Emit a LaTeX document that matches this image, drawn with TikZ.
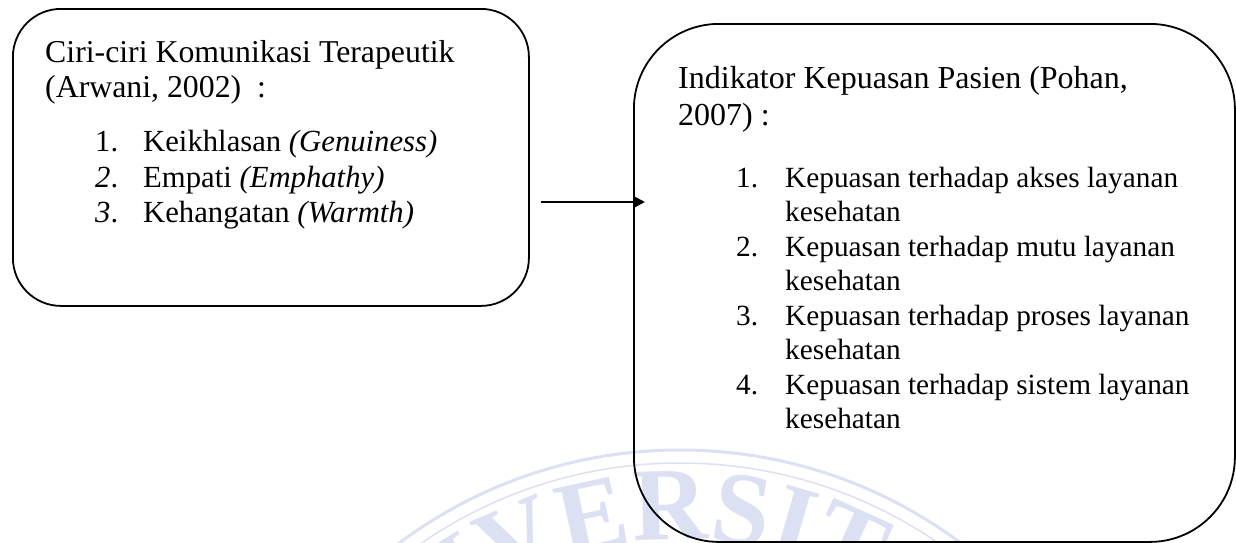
\documentclass[tikz,border=0pt]{standalone}
\usepackage{fontspec}
\setmainfont{Liberation Serif}
\usetikzlibrary{arrows.meta,decorations.text}
\definecolor{wm}{RGB}{220,224,243}
\begin{document}
\begin{tikzpicture}[x=1pt,y=-1pt,
  box/.style={draw=black, line width=1.8pt, inner sep=0pt, anchor=north west},
  lhead/.style={anchor=base west, inner sep=0pt, align=left, font=\fontsize{31.8}{35}\selectfont},
  ltext/.style={anchor=base west, inner sep=0pt, font=\fontsize{30.7}{35}\selectfont},
  rhead/.style={anchor=base west, inner sep=0pt, align=left, font=\fontsize{32}{37}\selectfont},
  rtext/.style={anchor=base west, inner sep=0pt, align=left, font=\fontsize{29.3}{34.5}\selectfont},
  ring/.style={draw=wm, line width=3pt},
  conn/.style={line width=2.4pt, -{Triangle[length=12pt,width=12pt]}}]
\useasboundingbox (0,0) rectangle (1236,542);
\fill[white] (0,0) rectangle (1236,542);
% faint watermark
\coordinate (wc) at (680,920);
\draw[ring] (wc) circle[radius=470];
\draw[ring, line width=1.5pt] (wc) circle[radius=457];
\path[decorate, decoration={text along path, text align=center,
  text={|\color{wm}\fontsize{104}{104}\selectfont\bfseries|UNIVERSITAS}}]
  ([shift={(206:380)}]wc) arc[start angle=206, end angle=326, radius=380];
% boxes
\node[box, minimum width=516pt, minimum height=297pt, rounded corners=48pt] (L) at (12,8) {};
\node[box, minimum width=601pt, minimum height=518pt, rounded corners=85pt] (R) at (633,23) {};
% left text
\node[lhead] (lt) at (45,97) {Ciri-ciri Komunikasi Terapeutik\\(Arwani, 2002)\ \ :};
\node[ltext] (ln1) at (95,151) {1.};
\node[ltext] (ln2) at (95,187) {\textit{2}.};
\node[ltext] (ln3) at (95,222) {\textit{3}.};
\node[ltext] (li1) at (143,151) {Keikhlasan \textit{(Genuiness)}};
\node[ltext] (li2) at (143,187) {Empati \textit{(Emphathy)}};
\node[ltext] (li3) at (143,222) {Kehangatan \textit{(Warmth)}};
% right text
\node[rhead] (rt) at (678,125) {Indikator Kepuasan Pasien (Pohan,\\2007) :};
\node[rtext] (rn1) at (736,187) {1.};
\node[rtext] (rn2) at (736,256) {2.};
\node[rtext] (rn3) at (736,325) {3.};
\node[rtext] (rn4) at (736,394) {4.};
\node[rtext] (ri1) at (785,221.5) {Kepuasan terhadap akses layanan\\kesehatan};
\node[rtext] (ri2) at (785,290.5) {Kepuasan terhadap mutu layanan\\kesehatan};
\node[rtext] (ri3) at (785,359.5) {Kepuasan terhadap proses layanan\\kesehatan};
\node[rtext] (ri4) at (785,428.5) {Kepuasan terhadap sistem layanan\\kesehatan};
% connector
\coordinate (a0) at ([xshift=11pt]L.east |- 0,202);
\coordinate (a1) at ([xshift=12pt]R.west |- 0,202);
\draw[conn] (a0) -- (a1);
\end{tikzpicture}
\end{document}
